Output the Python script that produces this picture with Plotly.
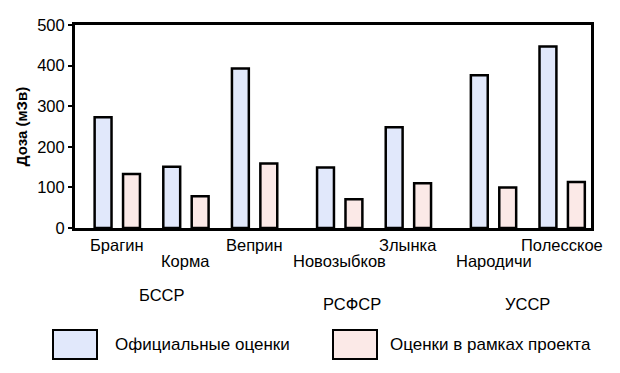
import plotly.graph_objects as go

# ---- data ----
sites = ["Брагин", "Корма", "Веприн", "Новозыбков", "Злынка", "Народичи", "Полесское"]
site_group = [0, 0, 0, 1, 1, 2, 2]
groups = ["БССР", "РСФСР", "УССР"]
official = [273, 151, 393, 149, 248, 376, 447]
project = [133, 78, 159, 71, 110, 100, 113]
series_names = ["Официальные оценки", "Оценки в рамках проекта"]
y_title = "Доза (мЗв)"

# ---- layout constants ----
W, H = 620, 373
L, R, T, B = 75, 591, 25, 228
GROUP_GAP = 0.24
OFFSET = 0.207
BAR_W = 0.246
XMIN, XMAX = -0.616, 6.90
C_OFF = "#E1E8FB"
C_PRO = "#FBE9E7"
FONT = "Liberation Sans, Arial, sans-serif"

def px_x(px):
    return (px - L) / (R - L)

def px_y(py):
    return (B - py) / (B - T)

centers = [i + GROUP_GAP * g for i, g in enumerate(site_group)]

fig = go.Figure()
fig.add_trace(go.Bar(x=[c - OFFSET for c in centers], y=official, width=BAR_W,
                     name=series_names[0], marker=dict(color=C_OFF, line=dict(color="black", width=2.5))))
fig.add_trace(go.Bar(x=[c + OFFSET for c in centers], y=project, width=BAR_W,
                     name=series_names[1], marker=dict(color=C_PRO, line=dict(color="black", width=2.5))))

annotations = []
for i, (name, c) in enumerate(zip(sites, centers)):
    row_y = 245 if i % 2 == 0 else 261
    annotations.append(dict(x=c, y=px_y(row_y), xref="x", yref="paper", text=name,
                            showarrow=False, xanchor="center", yanchor="middle",
                            font=dict(size=16.5, color="black", family=FONT)))

group_px = [(161, 295), (352, 304), (527, 304)]
for gname, (gx, gy) in zip(groups, group_px):
    annotations.append(dict(x=px_x(gx), y=px_y(gy), xref="paper", yref="paper", text=gname,
                            showarrow=False, xanchor="center", yanchor="middle",
                            font=dict(size=16.5, color="black", family=FONT)))

# manual legend
shapes = []
leg = [(53, 97, 113, C_OFF), (333, 377, 388, C_PRO)]
for (x0, x1, tx, col), nm in zip(leg, series_names):
    shapes.append(dict(type="rect", xref="paper", yref="paper",
                       x0=px_x(x0), x1=px_x(x1), y0=px_y(359), y1=px_y(330),
                       fillcolor=col, line=dict(color="black", width=2)))
    annotations.append(dict(x=px_x(tx), y=px_y(345), xref="paper", yref="paper", text=nm,
                            showarrow=False, xanchor="left", yanchor="middle",
                            font=dict(size=17, color="black", family=FONT)))

fig.update_layout(
    width=W, height=H,
    margin=dict(l=L, r=W - R, t=T, b=H - B, pad=0),
    paper_bgcolor="white", plot_bgcolor="white",
    barmode="overlay", showlegend=False,
    annotations=annotations, shapes=shapes,
    font=dict(family=FONT, color="black"),
)
fig.update_xaxes(range=[XMIN, XMAX], showticklabels=False, ticks="", showgrid=False,
                 zeroline=False, showline=True, linecolor="black", linewidth=3, mirror=True)
fig.update_yaxes(range=[0, 500], dtick=100, ticks="outside", ticklen=4, tickwidth=2,
                 tickcolor="black", showgrid=False, zeroline=False, showline=True,
                 linecolor="black", linewidth=3, mirror=True,
                 tickfont=dict(size=16.5, family=FONT),
                 title=dict(text="<b>" + y_title + "</b>", font=dict(size=15, family=FONT), standoff=6))

fig.write_html("out.html", config={"displayModeBar": False},
               post_script="document.body.style.margin='0px';")
